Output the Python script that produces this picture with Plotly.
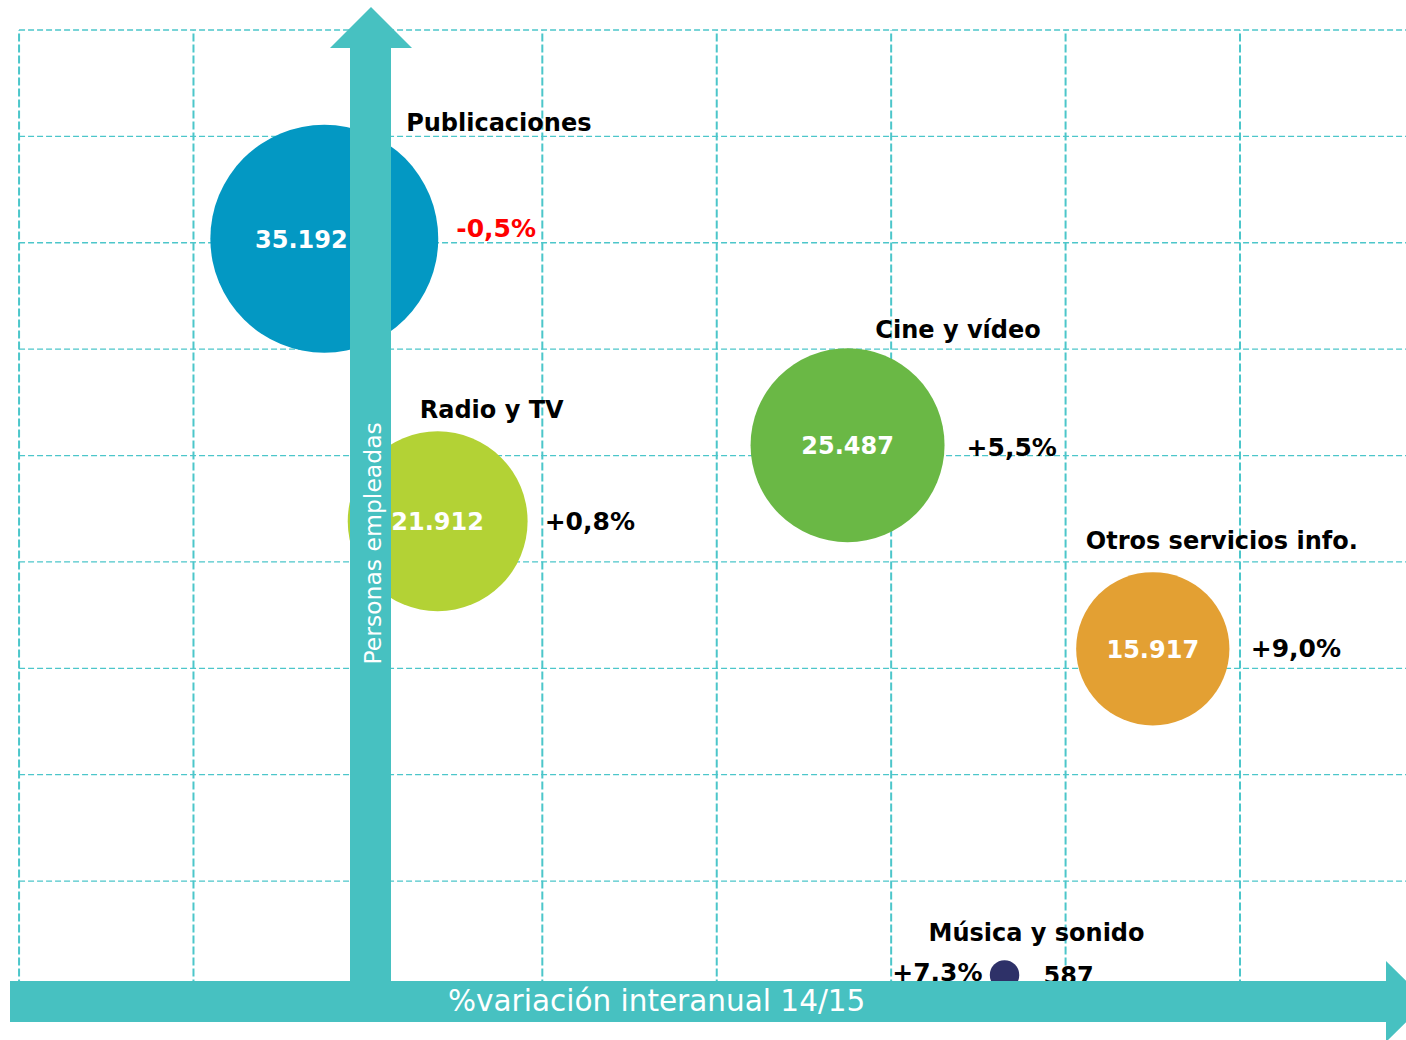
import plotly.graph_objects as go

# ---------------- data ----------------
sectors = ["Publicaciones", "Radio y TV", "Cine y vídeo", "Otros servicios info.", "Música y sonido"]
variation = [-0.5, 0.8, 5.5, 9.0, 7.3]            # % variación interanual 14/15
employed = [35192, 21912, 25487, 15917, 587]       # personas empleadas
variation_labels = ["-0,5%", "+0,8%", "+5,5%", "+9,0%", "+7,3%"]
employed_labels = ["35.192", "21.912", "25.487", "15.917", "587"]
x_grid = [-4, -2, 0, 2, 4, 6, 8, 10]
y_grid = [5000, 10000, 15000, 20000, 25000, 30000, 35000, 40000, 45000]

# ---------------- style ----------------
colors = ["#0398C3", "#B3D235", "#6AB845", "#E3A033", "#2E3168"]
pct_colors = ["#FF0000", "#000000", "#000000", "#000000", "#000000"]
TEAL = "#47C1C1"
GRID = "#4CC6CA"
FONT = "DejaVu Sans"

W, H = 1406, 1040
XS = 87.21          # px per 1 % point
YS = 0.021275       # px per person
X0_PX, Y0_PX = 367.9, 987.4   # pixel position of the origin
xr = [-X0_PX / XS, (W - X0_PX) / XS]
yr = [-(H - Y0_PX) / YS, Y0_PX / YS]


def dx(p):
    return p / XS


def dy(p):
    return p / YS


def px_x(p):
    return (p - X0_PX) / XS


def px_y(p):
    return (Y0_PX - p) / YS


fig = go.Figure()

# bubbles
fig.add_trace(go.Scatter(
    x=variation, y=employed, mode="markers",
    marker=dict(size=employed, sizemode="area", sizeref=1.3548,
                color=colors, opacity=1, line=dict(width=0)),
    hoverinfo="text", text=sectors, showlegend=False,
))

# label offsets (pixels)
name_dx = [174.5, 54, 110.5, 69, 32]
name_dy = [114, 109, 113, 106, 40]
pct_dx = [132, 107, 119, 98, -22]
pct_dy = [8, -3, -5, -2, 0]
pct_pos = ["middle right"] * 4 + ["middle left"]
val_dx = [-23, 0, 0, 0, 39]
val_dy = [-3, -3, -3, -3, -3]
val_pos = ["middle center"] * 4 + ["middle right"]
val_col = ["white"] * 4 + ["black"]

fig.add_trace(go.Scatter(
    x=[v + dx(o) for v, o in zip(variation, name_dx)],
    y=[e + dy(o) for e, o in zip(employed, name_dy)],
    mode="text", text=sectors, textposition="middle center",
    textfont=dict(family=FONT, size=24, color="black", weight="bold"),
    hoverinfo="skip", showlegend=False,
))
fig.add_trace(go.Scatter(
    x=[v + dx(o) for v, o in zip(variation, pct_dx)],
    y=[e + dy(o) for e, o in zip(employed, pct_dy)],
    mode="text", text=variation_labels, textposition=pct_pos,
    textfont=dict(family=FONT, size=25, color=pct_colors, weight="bold"),
    hoverinfo="skip", showlegend=False,
))
fig.add_trace(go.Scatter(
    x=[v + dx(o) for v, o in zip(variation, val_dx)],
    y=[e + dy(o) for e, o in zip(employed, val_dy)],
    mode="text", text=employed_labels, textposition=val_pos,
    textfont=dict(family=FONT, size=24, color=val_col, weight="bold"),
    hoverinfo="skip", showlegend=False,
))

shapes = []
# dashed grid
for gx in x_grid:
    shapes.append(dict(type="line", xref="x", yref="y", x0=gx, x1=gx, y0=0, y1=y_grid[-1],
                       line=dict(color=GRID, width=2, dash="8px,3px"), layer="below"))
for gy in y_grid:
    shapes.append(dict(type="line", xref="x", yref="y", x0=x_grid[0], x1=xr[1], y0=gy, y1=gy,
                       line=dict(color=GRID, width=1.3, dash="6px,3px"), layer="below"))


def path(points):
    return "M " + " L ".join(f"{px_x(a):.4f},{px_y(b):.4f}" for a, b in points) + " Z"


# vertical arrow (y axis)
v_arrow = [(350, 990), (350, 48), (330, 48), (371, 7), (412, 48), (391, 48), (391, 990)]
# horizontal arrow (x axis)
h_arrow = [(10, 981), (1386, 981), (1386, 961), (1427, 1001.5), (1386, 1042), (1386, 1022), (10, 1022)]
for pts in (v_arrow, h_arrow):
    shapes.append(dict(type="path", xref="x", yref="y", path=path(pts),
                       fillcolor=TEAL, line=dict(width=0), layer="above"))

annotations = [
    dict(text="Personas empleadas", x=px_x(372), y=px_y(543.5), xref="x", yref="y",
         showarrow=False, textangle=-90, font=dict(family=FONT, size=23.5, color="white")),
    dict(text="%variación interanual 14/15", x=px_x(656), y=px_y(1001), xref="x", yref="y",
         showarrow=False, font=dict(family=FONT, size=29.5, color="white")),
]

fig.update_layout(
    width=W, height=H, margin=dict(l=0, r=0, t=0, b=0),
    paper_bgcolor="white", plot_bgcolor="white",
    xaxis=dict(range=xr, visible=False, fixedrange=True),
    yaxis=dict(range=yr, visible=False, fixedrange=True),
    shapes=shapes, annotations=annotations, showlegend=False,
)

fig.write_html("out.html", config={"displayModeBar": False},
               post_script="document.body.style.margin='0';document.body.style.overflow='hidden';")
